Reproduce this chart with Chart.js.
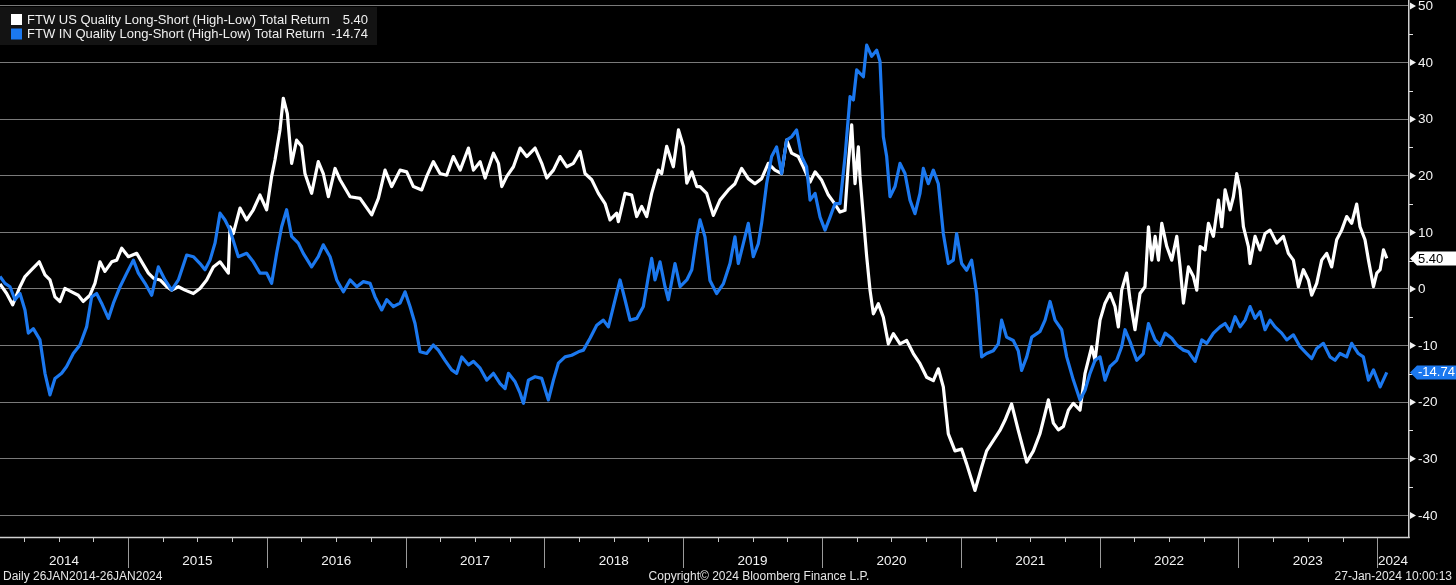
<!DOCTYPE html>
<html><head><meta charset="utf-8">
<script src="https://cdn.jsdelivr.net/npm/chart.js@4.4.1/dist/chart.umd.min.js"></script>
<style>html,body{margin:0;padding:0;background:#000;overflow:hidden}#wrap{width:1456px;height:585px}</style>
</head><body><div id="wrap"><canvas id="c" width="1456" height="585"></canvas></div>
<script>
// ---------- DATA (decimal years, total return %) ----------
const usDates = [
2014.078,2014.126,2014.169,2014.222,2014.258,2014.306,2014.361,2014.402,2014.438,2014.474,
2014.510,2014.546,2014.594,2014.642,2014.678,2014.726,2014.762,2014.798,2014.834,2014.883,
2014.919,2014.955,2015.003,2015.063,2015.099,2015.147,2015.183,2015.231,2015.279,2015.315,
2015.363,2015.411,2015.471,2015.519,2015.567,2015.615,2015.663,2015.723,2015.735,2015.759,
2015.807,2015.855,2015.903,2015.951,2015.999,2016.035,2016.059,2016.095,2016.119,2016.148,
2016.179,2016.215,2016.251,2016.275,2016.323,2016.371,2016.407,2016.444,2016.492,2016.528,
2016.600,2016.672,2016.756,2016.804,2016.852,2016.900,2016.960,2017.008,2017.056,2017.116,
2017.152,2017.200,2017.248,2017.296,2017.344,2017.393,2017.453,2017.489,2017.537,2017.573,
2017.633,2017.669,2017.693,2017.729,2017.777,2017.825,2017.873,2017.933,2017.981,2018.017,
2018.065,2018.113,2018.161,2018.209,2018.257,2018.293,2018.341,2018.389,2018.437,2018.473,
2018.521,2018.533,2018.581,2018.629,2018.665,2018.701,2018.737,2018.773,2018.821,2018.845,
2018.881,2018.929,2018.966,2019.002,2019.026,2019.062,2019.098,
2019.121,2019.169,2019.217,2019.265,2019.325,2019.373,2019.421,2019.469,2019.517,2019.565,
2019.613,2019.661,2019.709,2019.745,2019.781,2019.829,2019.865,2019.914,2019.950,2019.998,
2020.046,2020.082,2020.130,2020.166,2020.190,2020.214,2020.238,2020.262,2020.274,2020.298,
2020.322,2020.346,2020.370,2020.406,2020.442,2020.478,2020.514,2020.562,2020.610,2020.658,
2020.706,2020.754,2020.802,2020.838,2020.874,2020.910,2020.958,2021.006,2021.042,2021.102,
2021.150,2021.186,2021.234,2021.282,2021.318,2021.366,2021.414,2021.475,2021.523,
2021.571,2021.607,2021.631,2021.667,2021.703,2021.739,2021.775,2021.811,2021.859,2021.895,
2021.943,2021.967,2022.003,2022.039,2022.075,2022.111,2022.135,2022.159,2022.195,2022.219,
2022.255,2022.291,2022.327,2022.352,2022.376,2022.400,2022.424,2022.448,2022.484,2022.520,
2022.556,2022.580,2022.604,2022.640,2022.676,2022.700,2022.724,2022.760,2022.784,2022.820,
2022.856,2022.880,2022.904,2022.940,2022.964,2022.988,2023.012,2023.036,2023.072,2023.084,
2023.120,2023.156,2023.192,2023.228,2023.276,2023.324,2023.360,2023.396,2023.432,2023.468,
2023.504,2023.528,2023.564,2023.600,2023.636,2023.672,2023.708,2023.744,2023.780,2023.816,
2023.852,2023.876,2023.912,2023.937,2023.973,2023.997,2024.021,2024.045,2024.069
];
const usValues = [
0.9,-0.8,-2.8,0.4,2.2,3.4,4.8,2.5,1.6,-1.4,
-2.2,0.1,-0.5,-1.1,-2.2,-1.1,1.0,4.8,3.1,4.8,
5.1,7.2,5.7,6.3,4.8,2.8,1.9,1.6,0.4,-0.2,
0.4,-0.2,-0.8,0.1,1.6,3.9,4.8,2.8,11.0,9.8,
14.3,12.2,14.0,16.6,14.0,19.9,22.8,28.1,33.7,31.0,
22.2,26.3,25.2,20.4,16.9,22.5,20.4,16.3,21.3,19.3,
16.3,16.0,13.1,16.0,21.0,18.1,21.0,20.7,18.1,17.5,
19.9,22.5,20.4,20.1,23.4,21.0,24.9,21.0,22.5,19.6,
24.0,22.2,18.1,19.9,21.6,24.9,23.4,24.9,22.2,19.6,
21.0,23.4,21.6,22.2,24.3,20.4,19.3,16.9,15.1,12.2,
13.4,11.9,16.9,16.6,12.8,14.6,12.8,16.9,21.0,20.4,
25.2,21.6,28.1,25.2,18.7,20.7,18.1,
18.1,16.9,13.0,15.7,17.5,18.6,21.3,19.5,18.6,19.5,
22.2,21.0,20.4,26.3,24.0,23.4,21.6,18.9,20.7,19.2,
16.6,15.4,13.6,13.9,22.2,29.0,18.6,25.1,19.8,12.7,
5.7,-0.2,-4.4,-2.6,-5.0,-9.7,-7.9,-9.7,-9.1,-11.4,
-13.2,-15.6,-16.2,-14.1,-17.3,-25.6,-28.6,-28.3,-30.9,-35.6,
-31.5,-28.6,-26.8,-25.0,-23.2,-20.3,-25.0,-30.6,-28.6,
-25.5,-22.0,-19.6,-23.7,-24.9,-24.3,-21.4,-20.2,-21.4,-14.9,
-10.2,-12.6,-5.5,-2.5,-0.8,-3.1,-6.7,-0.2,2.8,-1.9,
-7.2,-0.8,0.4,11.0,5.1,9.3,5.1,11.6,7.5,5.1,
9.3,3.9,-2.5,3.9,2.2,-0.2,7.5,6.9,11.6,9.3,
15.7,11.0,17.5,14.0,16.3,20.4,17.5,11.0,7.5,4.5,
9.3,6.9,9.8,10.4,8.1,9.3,6.3,5.1,0.4,3.4,
1.6,-1.1,1.0,5.1,6.3,3.9,8.7,10.4,12.8,11.6,
15.0,11.0,8.7,5.1,0.4,2.8,3.4,6.9,5.40
];
const inDates = [
2014.078,2014.114,2014.150,2014.186,2014.222,2014.258,2014.282,2014.318,2014.366,2014.402,
2014.438,2014.474,2014.522,2014.558,2014.606,2014.654,2014.702,2014.738,2014.774,2014.810,
2014.859,2014.895,2014.943,2014.991,2015.039,2015.075,2015.123,2015.171,2015.219,2015.267,
2015.315,2015.363,2015.423,2015.471,2015.519,2015.555,2015.591,2015.627,2015.663,2015.699,
2015.735,2015.795,2015.855,2015.903,2015.951,2015.999,2016.035,2016.071,2016.107,2016.143,
2016.179,2016.227,2016.263,2016.323,2016.371,2016.407,2016.456,2016.504,2016.552,
2016.600,2016.648,2016.696,2016.744,2016.780,2016.828,2016.864,2016.912,2016.960,2016.996,
2017.032,2017.068,2017.104,2017.152,2017.200,2017.236,2017.284,2017.332,2017.368,2017.405,
2017.453,2017.489,2017.537,2017.585,2017.633,2017.681,2017.717,2017.741,2017.789,2017.825,
2017.849,2017.885,2017.933,2017.981,2018.029,2018.065,2018.101,2018.149,2018.197,2018.245,
2018.281,2018.329,2018.377,2018.425,2018.461,2018.497,2018.545,2018.581,2018.617,2018.665,
2018.713,2018.749,2018.773,2018.797,2018.833,2018.869,2018.893,2018.941,2018.978,2019.026,
2019.062,2019.098,
2019.121,2019.157,2019.193,2019.241,2019.289,2019.337,2019.373,2019.397,2019.433,2019.469,
2019.505,2019.541,2019.565,2019.601,2019.637,2019.673,2019.709,2019.745,2019.781,2019.817,
2019.853,2019.889,2019.914,2019.950,2019.986,2020.022,2020.058,2020.094,2020.130,2020.166,
2020.202,2020.226,2020.250,2020.298,2020.322,2020.358,2020.394,2020.418,2020.442,2020.466,
2020.490,2020.526,2020.562,2020.598,2020.634,2020.670,2020.706,2020.730,2020.766,2020.802,
2020.838,2020.874,2020.910,2020.946,2020.970,2021.006,2021.042,2021.078,2021.114,2021.150,
2021.186,2021.234,2021.270,2021.294,2021.330,2021.378,2021.414,2021.438,2021.475,2021.511,
2021.571,2021.607,2021.643,2021.679,2021.727,2021.763,2021.811,2021.859,2021.895,2021.931,
2021.967,2022.003,2022.039,2022.075,2022.123,2022.159,2022.183,2022.219,2022.267,2022.315,
2022.352,2022.400,2022.436,2022.472,2022.520,2022.556,2022.604,2022.640,2022.688,2022.736,
2022.772,2022.820,2022.868,2022.904,2022.940,2022.976,2023.012,2023.048,2023.084,2023.120,
2023.156,2023.192,2023.228,2023.264,2023.312,2023.348,2023.396,2023.444,2023.492,2023.528,
2023.564,2023.612,2023.660,2023.696,2023.732,2023.780,2023.816,2023.864,2023.900,2023.937,
2023.973,2024.021,2024.069
];
const inValues = [
2.2,1.0,0.4,-1.9,-0.8,-3.7,-7.8,-7.0,-9.0,-14.9,
-18.7,-15.8,-14.9,-13.7,-11.4,-9.9,-6.7,-1.4,-0.8,-2.5,
-5.2,-2.5,0.4,2.8,5.1,2.8,1.0,-1.1,3.9,1.6,
-0.2,1.6,6.0,5.7,4.5,3.4,5.1,8.1,13.4,12.2,
10.4,5.7,6.3,4.8,2.8,2.8,1.0,6.3,11.0,14.0,
9.3,8.1,6.3,3.9,5.7,7.8,5.7,1.6,-0.5,
1.6,0.4,1.3,1.0,-1.4,-3.7,-1.9,-3.1,-2.5,-0.5,
-3.1,-6.1,-11.1,-11.4,-9.9,-10.8,-12.6,-14.3,-14.9,-12.0,
-13.4,-12.8,-14.0,-16.1,-14.9,-16.7,-17.6,-14.9,-16.4,-18.4,
-20.2,-16.1,-15.5,-15.8,-19.6,-16.1,-13.1,-12.0,-11.7,-11.1,
-10.8,-8.7,-6.4,-5.5,-6.7,-3.1,1.6,-1.9,-5.5,-5.2,
-3.1,2.2,5.4,1.6,4.8,0.4,-1.9,4.5,0.4,1.6,
3.4,9.3,
12.2,9.2,1.5,-0.8,0.9,4.5,9.2,4.5,8.0,11.6,
5.7,8.0,11.6,18.6,23.4,25.1,20.4,26.3,26.9,28.1,
23.4,21.6,15.7,16.9,12.7,10.4,12.7,15.1,15.1,23.4,
34.0,33.4,38.7,37.5,43.1,41.1,42.2,40.2,26.9,23.4,
16.3,18.1,22.2,20.4,15.7,13.3,16.9,21.3,18.6,21.0,
18.6,9.8,4.5,5.1,9.8,4.5,3.3,5.1,-0.8,-12.0,
-11.4,-10.9,-9.7,-5.5,-8.5,-9.1,-10.9,-14.4,-12.0,-8.5,
-7.5,-5.5,-2.2,-5.5,-7.2,-12.0,-16.1,-19.6,-17.9,-14.9,
-12.6,-12.0,-16.1,-13.7,-12.6,-10.2,-7.2,-9.3,-12.6,-11.4,
-6.1,-9.0,-9.9,-7.8,-8.7,-9.9,-10.8,-11.1,-12.8,-9.0,
-9.6,-7.8,-6.7,-6.1,-7.5,-4.9,-6.7,-5.5,-3.1,-5.2,
-4.0,-7.2,-5.5,-6.7,-7.8,-9.0,-8.1,-10.2,-11.4,-12.3,
-10.5,-9.6,-12.0,-12.6,-11.4,-12.0,-9.6,-11.4,-12.0,-16.1,
-14.3,-17.3,-14.74
];
const seriesNames = ['FTW US Quality Long-Short (High-Low) Total Return','FTW IN Quality Long-Short (High-Low) Total Return'];
const lastValues = [5.40, -14.74];
const yearLabels = ['2014','2015','2016','2017','2018','2019','2020','2021','2022','2023','2024'];
const yTicks = [-40,-30,-20,-10,0,10,20,30,40,50];
const footerTexts = ['Daily 26JAN2014-26JAN2024','Copyright\u00A9 2024 Bloomberg Finance L.P.','27-Jan-2024 10:00:13'];

// ---------- STYLE ----------
const WHITE = '#ffffff', BLUE = '#1b78ef';
const FONT = '"Liberation Sans", Arial, sans-serif';
const X_MIN = 2014.078, X_MAX = 2024.229, Y_MIN = -43.82, Y_MAX = 51.06;

function pts(d, v){ const n = Math.min(d.length, v.length); const r=[]; for(let i=0;i<n;i++) r.push({x:d[i], y:v[i]}); return r; }

const bbPlugin = {
  id: 'bb',
  beforeDraw(chart){
    const c = chart.ctx; c.save(); c.fillStyle = '#000'; c.fillRect(0,0,chart.width,chart.height); c.restore();
  },
  afterDraw(chart){
    const ctx = chart.ctx, xs = chart.scales.x, ys = chart.scales.y, a = chart.chartArea;
    ctx.save();
    // bottom axis line
    ctx.strokeStyle = '#d0d0d0'; ctx.lineWidth = 1.5;
    ctx.beginPath(); ctx.moveTo(a.left, a.bottom + 0.5); ctx.lineTo(a.right + 0.75, a.bottom + 0.5); ctx.stroke();
    // year separators, quarter ticks, labels
    ctx.font = '13.5px ' + FONT; ctx.textAlign = 'center'; ctx.textBaseline = 'middle';
    yearLabels.forEach(lbl => {
      const yr = parseInt(lbl, 10);
      if (yr > X_MIN && yr < X_MAX) {
        const px = Math.round(xs.getPixelForValue(yr)) + 0.5;
        ctx.strokeStyle = '#9a9a9a'; ctx.lineWidth = 1;
        ctx.beginPath(); ctx.moveTo(px, a.bottom + 1); ctx.lineTo(px, a.bottom + 31); ctx.stroke();
      }
      [0.25, 0.5, 0.75].forEach(q => {
        const v = yr + q;
        if (v > X_MIN && v < X_MAX) {
          const px = Math.round(xs.getPixelForValue(v)) + 0.5;
          ctx.strokeStyle = '#c8c8c8'; ctx.lineWidth = 1;
          ctx.beginPath(); ctx.moveTo(px, a.bottom + 1); ctx.lineTo(px, a.bottom + 5); ctx.stroke();
        }
      });
      const c0 = Math.max(yr, X_MIN), c1 = Math.min(yr + 1, X_MAX);
      const cx = (xs.getPixelForValue(c0) + xs.getPixelForValue(c1)) / 2;
      ctx.fillStyle = '#f2f2f2';
      ctx.fillText(lbl, cx, a.bottom + 24);
    });
    // right axis markers + labels
    ctx.textAlign = 'left';
    for (let v = -40; v <= 50; v += 5) {
      const py = ys.getPixelForValue(v);
      if (v % 10 === 0) {
        ctx.fillStyle = '#f2f2f2';
        ctx.beginPath(); ctx.moveTo(a.right + 1, py - 3.5); ctx.lineTo(a.right + 7, py); ctx.lineTo(a.right + 1, py + 3.5); ctx.closePath(); ctx.fill();
      } else {
        ctx.strokeStyle = '#e0e0e0'; ctx.lineWidth = 1;
        ctx.beginPath(); ctx.moveTo(a.right, Math.round(py) + 0.5); ctx.lineTo(a.right + 4, Math.round(py) + 0.5); ctx.stroke();
      }
    }
    ctx.fillStyle = '#f2f2f2';
    yTicks.forEach(v => { ctx.fillText(String(v), a.right + 9, ys.getPixelForValue(v) + 0.5); });
    // last value tags
    const tags = [{v: lastValues[0], bg: '#ffffff', fg: '#000000'}, {v: lastValues[1], bg: BLUE, fg: '#ffffff'}];
    tags.forEach(t => {
      const py = ys.getPixelForValue(t.v);
      ctx.fillStyle = t.bg;
      ctx.beginPath(); ctx.moveTo(a.right + 1, py); ctx.lineTo(a.right + 8, py - 7); ctx.lineTo(chart.width, py - 7);
      ctx.lineTo(chart.width, py + 7); ctx.lineTo(a.right + 8, py + 7); ctx.closePath(); ctx.fill();
      ctx.fillStyle = t.fg; ctx.font = '13px ' + FONT; ctx.textAlign = 'left';
      ctx.fillText(t.v.toFixed(2), a.right + 9, py + 0.5);
    });
    // footer
    ctx.font = '12px ' + FONT; ctx.fillStyle = '#e6e6e6'; ctx.textBaseline = 'middle';
    ctx.textAlign = 'left'; ctx.fillText(footerTexts[0], 3, 577);
    ctx.textAlign = 'center'; ctx.fillText(footerTexts[1], 759, 577);
    ctx.textAlign = 'right'; ctx.fillText(footerTexts[2], 1452, 577);
    // legend
    ctx.fillStyle = '#131313'; ctx.fillRect(0, 7, 377, 38);
    const rows = [{c: WHITE, y: 19.5}, {c: BLUE, y: 34}];
    ctx.font = '13px ' + FONT;
    rows.forEach((r, i) => {
      ctx.fillStyle = r.c; ctx.fillRect(11, r.y - 5.5, 11, 11);
      ctx.fillStyle = '#f0f0f0'; ctx.textAlign = 'left'; ctx.fillText(seriesNames[i], 27, r.y + 0.5);
      ctx.textAlign = 'right'; ctx.fillText(lastValues[i].toFixed(2), 368, r.y + 0.5);
    });
    ctx.restore();
  }
};

new Chart(document.getElementById('c'), {
  type: 'line',
  data: {
    datasets: [
      { label: seriesNames[0], data: pts(usDates, usValues), borderColor: WHITE, borderWidth: 3.2, pointRadius: 0, tension: 0, order: 2, borderJoinStyle: 'round' },
      { label: seriesNames[1], data: pts(inDates, inValues), borderColor: BLUE, borderWidth: 3.2, pointRadius: 0, tension: 0, order: 1, borderJoinStyle: 'round' }
    ]
  },
  options: {
    responsive: false, animation: false, devicePixelRatio: 1,
    layout: { padding: { left: 0, top: 0, right: 0, bottom: 48 } },
    plugins: { legend: { display: false }, tooltip: { enabled: false } },
    scales: {
      x: { type: 'linear', min: X_MIN, max: X_MAX, display: false },
      y: {
        position: 'right', min: Y_MIN, max: Y_MAX,
        afterBuildTicks: s => { s.ticks = yTicks.map(v => ({ value: v })); },
        afterFit: s => { s.width = 47; },
        ticks: { display: false },
        grid: { color: '#7a7a7a', lineWidth: 1, drawTicks: false },
        border: { display: true, color: '#d0d0d0', width: 1.5 }
      }
    }
  },
  plugins: [bbPlugin]
});
</script></body></html>
